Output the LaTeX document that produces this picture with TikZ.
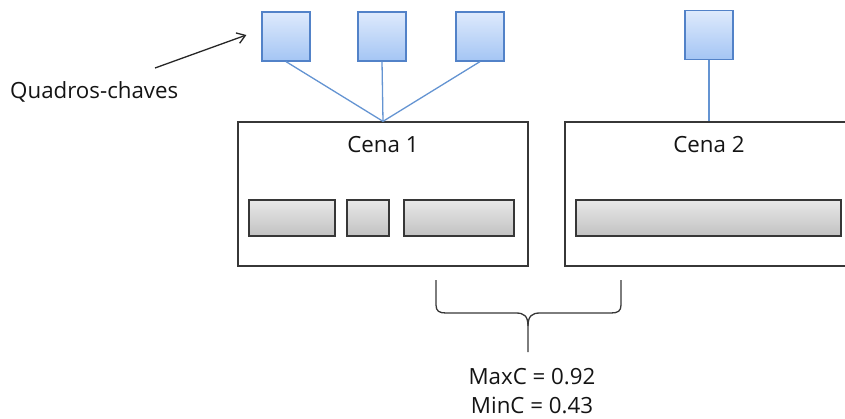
\documentclass[tikz,border=0pt]{standalone}
\usepackage{fontspec}
\setmainfont{Open Sans}
\usetikzlibrary{arrows.meta}
\definecolor{keytop}{RGB}{222,234,252}
\definecolor{keybottom}{RGB}{164,197,244}
\definecolor{keyline}{RGB}{82,130,200}
\definecolor{linkline}{RGB}{100,148,210}
\definecolor{frameline}{RGB}{55,55,55}
\definecolor{texto}{RGB}{20,20,20}

\begin{document}
\begin{tikzpicture}[x=1pt, y=-1pt,
        keyframe/.style = {draw=keyline, line width=1.2pt, top color=keytop, bottom color=keybottom,
                           minimum width=48pt, minimum height=49pt, inner sep=0pt},
        scene/.style = {draw=frameline, line width=1.3pt, fill=white, minimum height=144pt, inner sep=0pt},
        shot/.style = {draw=frameline, line width=1.4pt, top color=black!9, bottom color=black!24,
                       minimum height=36pt, inner sep=0pt},
        link/.style = {draw=linkline, line width=1.3pt},
        every node/.append style = {text=texto, font=\fontsize{22.3}{27}\selectfont}]
    \clip (0,0) rectangle (845,418);

    % cenas
    \node[scene, minimum width=290pt] (cena1) at (383, 194) {};
    \node[scene, minimum width=288pt] (cena2) at (709, 194) {};
    \node (titulo1) at (383, 145) {Cena 1};
    \node (titulo2) at (709, 145) {Cena 2};

    % tomadas dentro das cenas
    \node[shot, minimum width=86pt] (tomada1) at (292, 218) {};
    \node[shot, minimum width=42pt] (tomada2) at (368, 218) {};
    \node[shot, minimum width=110pt] (tomada3) at (459, 218) {};
    \node[shot, minimum width=265pt] (tomada4) at (708.5, 218) {};

    % quadros-chaves
    \node[keyframe] (quadro1) at (286, 36.5) {};
    \node[keyframe] (quadro2) at (382, 36.5) {};
    \node[keyframe] (quadro3) at (480, 36.5) {};
    \node[keyframe] (quadro4) at (709, 35) {};

    \draw[link] (quadro1.south) -- (cena1.north);
    \draw[link] (quadro2.south) -- (cena1.north);
    \draw[link] (quadro3.south) -- (cena1.north);
    \draw[link] (quadro4.south) -- (cena2.north);

    \node[anchor=west, inner sep=0pt] (rotulo) at (10, 92) {Quadros-chaves};
    \coordinate (seta) at (155, 68);
    \draw[-{Straight Barb[length=8pt, width=11pt]}, line width=1.3pt, black!85]
        (seta) -- ([xshift=-15pt, yshift=1.5pt]quadro1.west);

    % chave entre as cenas
    \draw[frameline, line width=1.3pt]
        (436, 280) -- (436, 305) .. controls (436, 311) and (439, 313) .. (446, 313)
        -- (516, 313) .. controls (524, 313) and (528, 316) .. (528, 326) -- (528, 352);
    \draw[frameline, line width=1.3pt]
        (621, 280) -- (621, 305) .. controls (621, 311) and (618, 313) .. (611, 313)
        -- (540, 313) .. controls (532, 313) and (528, 316) .. (528, 326);

    \node (maxc) at (532, 377) {MaxC = 0.92};
    \node (minc) at (532, 405) {MinC = 0.43};
\end{tikzpicture}
\end{document}
